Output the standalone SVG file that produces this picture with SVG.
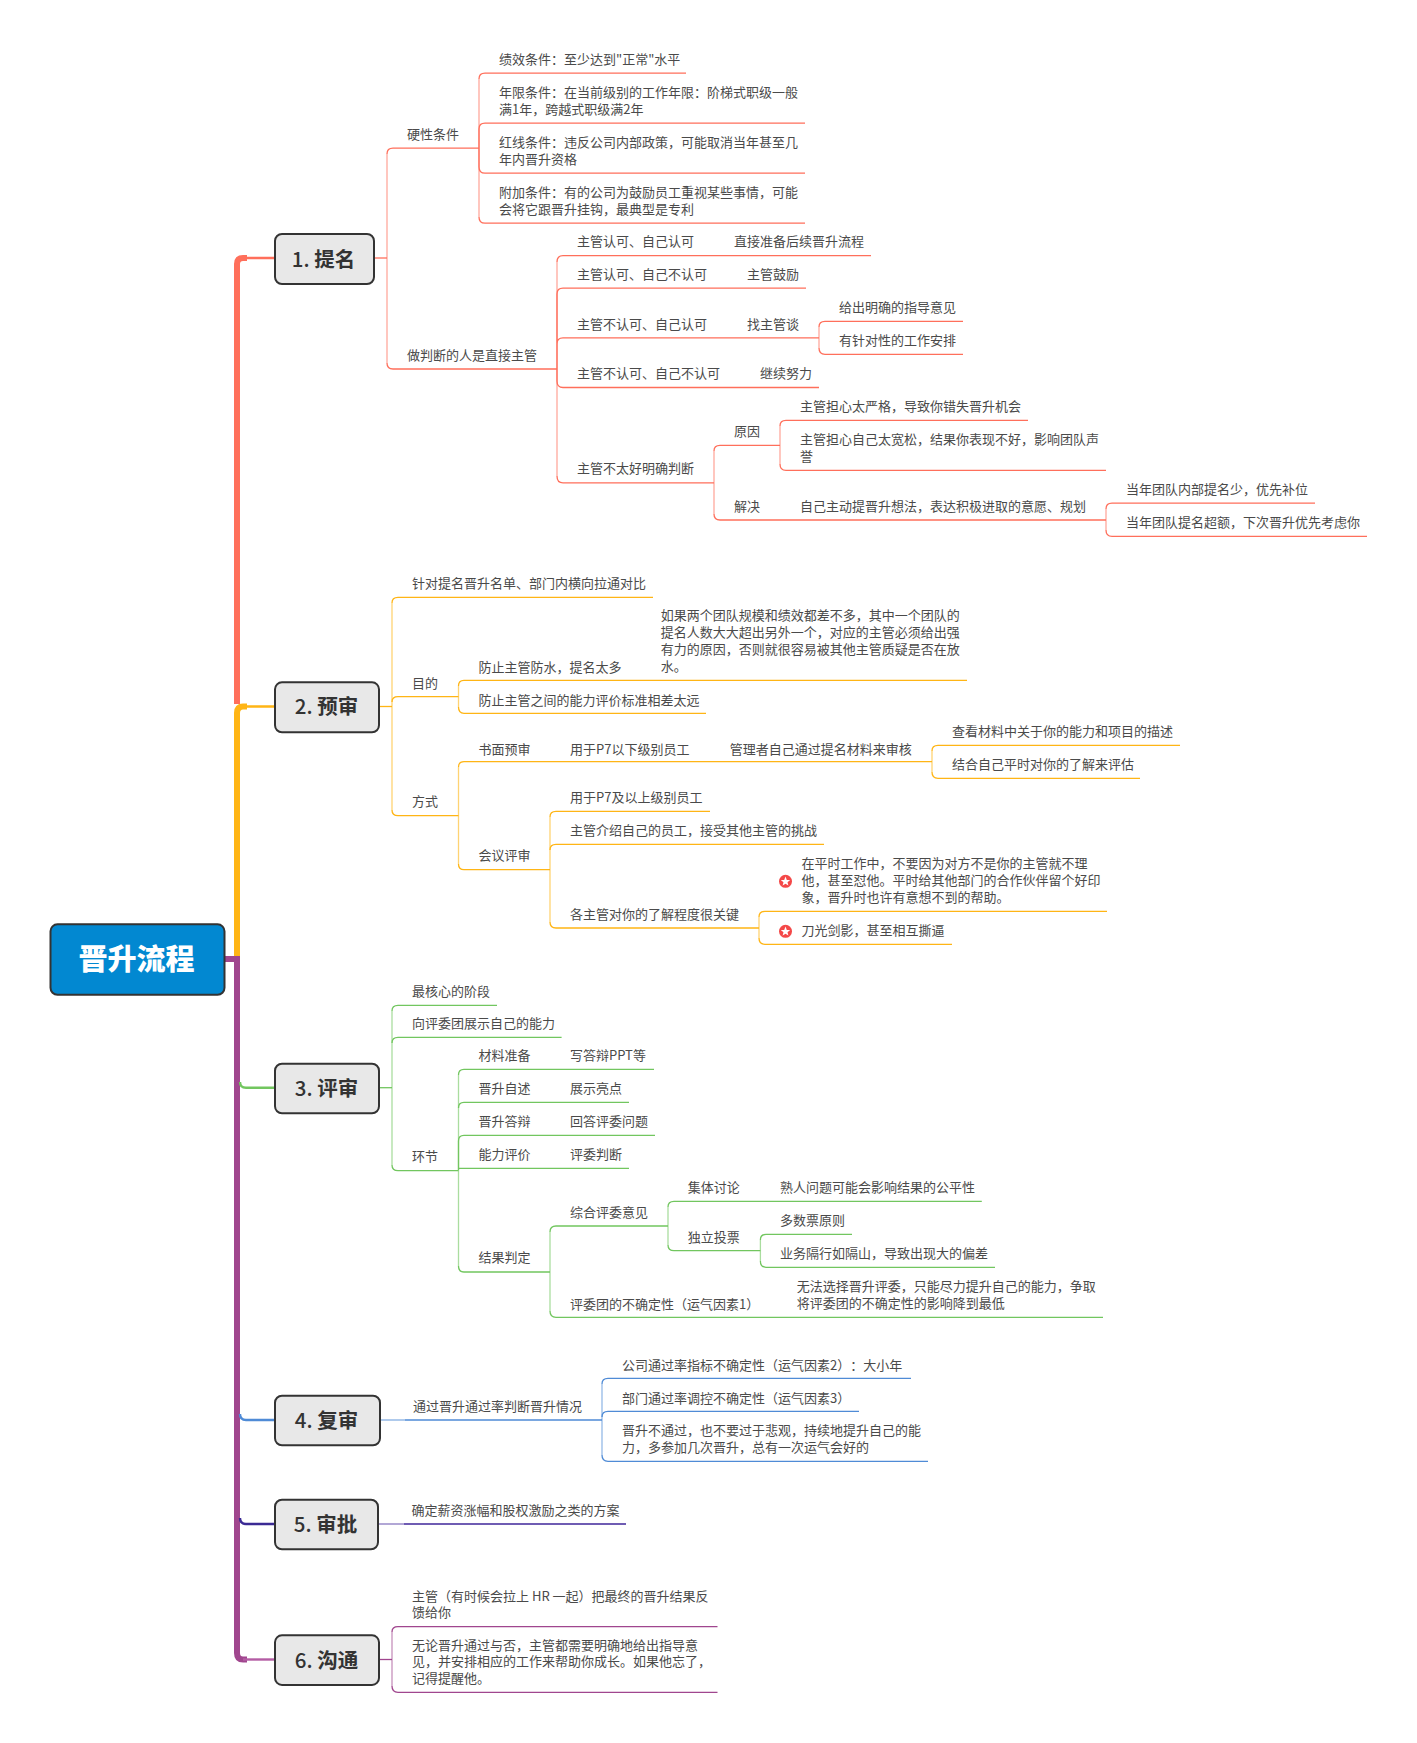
<svg xmlns="http://www.w3.org/2000/svg" width="1417" height="1743" viewBox="0 0 1417 1743">
<style>
text{font-family:"Noto Sans CJK SC","Noto Sans",sans-serif;fill:#4a4a4a;font-size:13px;text-spacing-trim:space-all}
.m{font-size:20.500px;font-weight:700;fill:#333;text-anchor:middle}
.d{font-weight:500}
.c{font-size:29px;font-weight:900;fill:#fff;text-anchor:middle}
.box{fill:#e8e8e8;stroke:#333;stroke-width:2}
.root{fill:#0288d1;stroke:#333;stroke-width:2}
#connectors path{fill:none;stroke-width:1.3}
.l{opacity:.6}
#connectors .tr{stroke-width:6}
#connectors .br{stroke-width:2.4}
.r{stroke:#ff6f5b}.o{stroke:#ffb515}.g{stroke:#72c65f}.b{stroke:#4f8bd6}.i{stroke:#6f5cb3}.p{stroke:#a0468e}
</style>
<g id="connectors">
<!-- trunk -->
<path class="tr p" d="M224 959H237V1653Q237 1659.500 243 1659.500H247"/>
<path class="tr o" d="M237 956V713Q237 706.500 243 706.500H247"/>
<path class="tr r" d="M237 704V264Q237 258 243 258H247"/>
<path class="br r" d="M240 258H275"/>
<path class="br o" d="M240 706.500H275"/>
<path class="br g" d="M240 1082Q240 1087.700 246 1087.700H275"/>
<path class="br b" d="M240 1414Q240 1420 246 1420H275"/>
<path class="br" style="stroke:#3b2a94" d="M240 1518Q240 1524 246 1524H275"/>
<path class="br" style="stroke:#b45ca4" d="M243 1659.500H275"/>
<!-- 1 -->
<path class="r" d="M374 258H387"/>
<path class="r l" d="M387 154V363M479 79V217M557 262V476M819 327V348M714 451V514M780 426V464M1106 509V530"/>
<path class="r" d="M387 154Q387 148.200 393 148.200H479M387 363Q387 369 393 369H557"/>
<path class="r" d="M479 79Q479 73.200 485 73.200H686M479 129Q479 123.200 485 123.200H805M479 167Q479 173.200 485 173.200H805M479 129V167M479 217Q479 223.200 485 223.200H805"/>
<path class="r" d="M557 262Q557 255.700 563 255.700H871M557 294Q557 288.200 563 288.200H806M557 344Q557 337.900 563 337.900H819M557 381Q557 387.500 563 387.500H819M557 476Q557 482.900 563 482.900H714M557 294V381"/>
<path class="r" d="M819 327Q819 321.400 825 321.400H963M819 348Q819 354.300 825 354.300H963"/>
<path class="r" d="M714 451Q714 445.400 720 445.400H780M714 514Q714 520 720 520H1106"/>
<path class="r" d="M780 426Q780 420.400 786 420.400H1028M780 464Q780 470.400 786 470.400H1106"/>
<path class="r" d="M1106 509Q1106 503.200 1112 503.200H1315M1106 530Q1106 536.400 1112 536.400H1367"/>
<!-- 2 -->
<path class="o" d="M379 706.500H392"/>
<path class="o l" d="M392 603V810M458.500 686V707M458.500 767V864M550 817V922M932 751V772M759 917V938"/>
<path class="o" d="M392 603Q392 597.300 398 597.300H653M392 702Q392 696.700 398 696.700H458.500M392 810Q392 815.700 398 815.700H458.500"/>
<path class="o" d="M458.500 686Q458.500 680.300 464 680.300H967M458.500 707Q458.500 713.300 464 713.300H706"/>
<path class="o" d="M458.500 767Q458.500 761.700 464 761.700H932M458.500 864Q458.500 869.700 464 869.700H550"/>
<path class="o" d="M932 751Q932 745.300 938 745.300H1180M932 772Q932 778.300 938 778.300H1140"/>
<path class="o" d="M550 817Q550 811.300 556 811.300H710M550 850Q550 844.300 556 844.300H824M550 922Q550 928 556 928H759"/>
<path class="o" d="M759 917Q759 911.300 765 911.300H1107M759 938Q759 944.300 765 944.300H952"/>
<!-- 3 -->
<path class="g" d="M379 1087.700H392"/>
<path class="g l" d="M392 1011V1165M458.500 1075V1266M550 1232V1311M668 1207V1245M760.400 1240V1261"/>
<path class="g" d="M392 1011Q392 1005.300 398 1005.300H497M392 1043Q392 1037.300 398 1037.300H561.600M392 1165Q392 1170.700 398 1170.700H458.500"/>
<path class="g" d="M458.500 1075Q458.500 1069.300 464 1069.300H654M458.500 1108Q458.500 1102.300 464 1102.300H629M458.500 1141Q458.500 1135.300 464 1135.300H655M458.500 1168.300H629M458.500 1141V1170M458.500 1266Q458.500 1272 464 1272H550"/>
<path class="g" d="M550 1232Q550 1226 556 1226H668M550 1311Q550 1317.300 556 1317.300H1103"/>
<path class="g" d="M668 1207Q668 1201.300 674 1201.300H981.800M668 1245Q668 1250.700 674 1250.700H760.400"/>
<path class="g" d="M760.400 1240Q760.400 1234.300 766 1234.300H852M760.400 1261Q760.400 1267.300 766 1267.300H995"/>
<!-- 4 -->
<path class="b l" d="M380 1420H405M602 1384V1455"/>
<path class="b" d="M405 1420H602M602 1384Q602 1378.300 608 1378.300H911M602 1417Q602 1411.300 608 1411.300H859M602 1455Q602 1461.300 608 1461.300H928"/>
<!-- 5 -->
<path class="i l" style="stroke-width:1.8" d="M378 1524H404"/>
<path class="i" style="stroke-width:1.8" d="M404 1524H626"/>
<!-- 6 -->
<path class="p" d="M379 1659.500H392"/>
<path class="p l" d="M392 1632V1686"/>
<path class="p" d="M392 1632Q392 1626.700 398 1626.700H717.500M392 1686Q392 1692.300 398 1692.300H717.500"/>
</g>

<g id="root"><rect class="root" x="50.500" y="924.300" width="174" height="70.500" rx="7"/><text class="c" x="136.500" y="970">晋升流程</text></g>
<g id="n1"><rect class="box" x="275" y="234" width="99" height="50" rx="7"/><text class="m" x="323.500" y="266.500"><tspan class="d">1. </tspan>提名</text></g>
<g id="n2"><rect class="box" x="275" y="682.300" width="104" height="50" rx="7"/><text class="m" x="326.500" y="714"><tspan class="d">2. </tspan>预审</text></g>
<g id="n3"><rect class="box" x="275" y="1063.700" width="104" height="49.600" rx="7"/><text class="m" x="326.500" y="1095.500"><tspan class="d">3. </tspan>评审</text></g>
<g id="n4"><rect class="box" x="275" y="1395.700" width="105" height="49.600" rx="7"/><text class="m" x="326.500" y="1427.500"><tspan class="d">4. </tspan>复审</text></g>
<g id="n5"><rect class="box" x="275" y="1499.700" width="103" height="49.600" rx="7"/><text class="m" x="325.500" y="1531.500"><tspan class="d">5. </tspan>审批</text></g>
<g id="n6"><rect class="box" x="275" y="1635.300" width="104" height="49.600" rx="7"/><text class="m" x="326.500" y="1667.500"><tspan class="d">6. </tspan>沟通</text></g>

<g id="t1-a"><text x="407" y="138.700">硬性条件</text></g>
<g id="t1-a1"><text x="499" y="63.700">绩效条件：至少达到"正常"水平</text></g>
<g id="t1-a2"><text x="499" y="96.900">年限条件：在当前级别的工作年限：阶梯式职级一般<tspan x="499" dy="17.200">满1年，跨越式职级满2年</tspan></text></g>
<g id="t1-a3"><text x="499" y="147.400">红线条件：违反公司内部政策，可能取消当年甚至几<tspan x="499" dy="17">年内晋升资格</tspan></text></g>
<g id="t1-a4"><text x="499" y="197.400">附加条件：有的公司为鼓励员工重视某些事情，可能<tspan x="499" dy="16.500">会将它跟晋升挂钩，最典型是专利</tspan></text></g>
<g id="t1-b"><text x="407" y="359.700">做判断的人是直接主管</text></g>
<g id="t1-b1"><text x="577" y="245.700">主管认可、自己认可</text><text x="734" y="245.700">直接准备后续晋升流程</text></g>
<g id="t1-b2"><text x="577" y="278.700">主管认可、自己不认可</text><text x="747" y="278.700">主管鼓励</text></g>
<g id="t1-b3"><text x="577" y="328.700">主管不认可、自己认可</text><text x="747" y="328.700">找主管谈</text></g>
<g id="t1-b3a"><text x="839" y="311.600">给出明确的指导意见</text></g>
<g id="t1-b3b"><text x="839" y="345.100">有针对性的工作安排</text></g>
<g id="t1-b4"><text x="577" y="378">主管不认可、自己不认可</text><text x="760" y="378">继续努力</text></g>
<g id="t1-b5"><text x="577" y="473">主管不太好明确判断</text></g>
<g id="t1-b5a"><text x="734" y="435.700">原因</text></g>
<g id="t1-b5a1"><text x="800" y="410.700">主管担心太严格，导致你错失晋升机会</text></g>
<g id="t1-b5a2"><text x="800" y="443.700">主管担心自己太宽松，结果你表现不好，影响团队声<tspan x="800" dy="17">誉</tspan></text></g>
<g id="t1-b5b"><text x="734" y="511.200">解决</text><text x="800" y="511.200">自己主动提晋升想法，表达积极进取的意愿、规划</text></g>
<g id="t1-b5b1"><text x="1126" y="494.100">当年团队内部提名少，优先补位</text></g>
<g id="t1-b5b2"><text x="1126" y="526.900">当年团队提名超额，下次晋升优先考虑你</text></g>

<g id="t2-a"><text x="412" y="588">针对提名晋升名单、部门内横向拉通对比</text></g>
<g id="t2-b"><text x="412" y="688.200">目的</text></g>
<g id="t2-b1"><text x="478.600" y="672.200">防止主管防水，提名太多</text><text x="660.700" y="619.700">如果两个团队规模和绩效都差不多，其中一个团队的<tspan x="660.700" dy="17">提名人数大大超出另外一个，对应的主管必须给出强</tspan><tspan x="660.700" dy="17">有力的原因，否则就很容易被其他主管质疑是否在放</tspan><tspan x="660.700" dy="17">水。</tspan></text></g>
<g id="t2-b2"><text x="478.600" y="704.500">防止主管之间的能力评价标准相差太远</text></g>
<g id="t2-c"><text x="412" y="806">方式</text></g>
<g id="t2-c1"><text x="478.600" y="753.500">书面预审</text><text x="570" y="753.500">用于P7以下级别员工</text><text x="729.700" y="753.500">管理者自己通过提名材料来审核</text></g>
<g id="t2-c1a"><text x="952" y="735.700">查看材料中关于你的能力和项目的描述</text></g>
<g id="t2-c1b"><text x="952" y="769">结合自己平时对你的了解来评估</text></g>
<g id="t2-c2"><text x="478.600" y="860">会议评审</text></g>
<g id="t2-c2a"><text x="570" y="802.200">用于P7及以上级别员工</text></g>
<g id="t2-c2b"><text x="570" y="835.300">主管介绍自己的员工，接受其他主管的挑战</text></g>
<g id="t2-c2c"><text x="570" y="919.300">各主管对你的了解程度很关键</text></g>
<g id="t2-c2c1"><circle cx="785.500" cy="881.300" r="6.500" fill="#f44848"/><polygon fill="#fff" points="785.500,876.600 786.800,879.900 790.200,880.100 787.500,882.300 788.400,885.600 785.500,883.700 782.600,885.600 783.500,882.300 780.800,880.100 784.200,879.900"/><text x="801.500" y="867.500">在平时工作中，不要因为对方不是你的主管就不理<tspan x="801.500" dy="17.200">他，甚至怼他。平时给其他部门的合作伙伴留个好印</tspan><tspan x="801.500" dy="17">象，晋升时也许有意想不到的帮助。</tspan></text></g>
<g id="t2-c2c2"><circle cx="785.500" cy="931.300" r="6.500" fill="#f44848"/><polygon fill="#fff" points="785.500,926.600 786.800,929.900 790.200,930.100 787.500,932.300 788.400,935.600 785.500,933.700 782.600,935.600 783.500,932.300 780.800,930.100 784.200,929.900"/><text x="801.500" y="935.300">刀光剑影，甚至相互撕逼</text></g>

<g id="t3-a"><text x="412" y="995.700">最核心的阶段</text></g>
<g id="t3-b"><text x="412" y="1028">向评委团展示自己的能力</text></g>
<g id="t3-c"><text x="412" y="1160.700">环节</text></g>
<g id="t3-c1"><text x="478.600" y="1059.700">材料准备</text><text x="570" y="1059.700">写答辩PPT等</text></g>
<g id="t3-c2"><text x="478.600" y="1092.700">晋升自述</text><text x="570" y="1092.700">展示亮点</text></g>
<g id="t3-c3"><text x="478.600" y="1125.700">晋升答辩</text><text x="570" y="1125.700">回答评委问题</text></g>
<g id="t3-c4"><text x="478.600" y="1159">能力评价</text><text x="570" y="1159">评委判断</text></g>
<g id="t3-c5"><text x="478.600" y="1261.700">结果判定</text></g>
<g id="t3-c5a"><text x="570" y="1217">综合评委意见</text></g>
<g id="t3-c5a1"><text x="687.700" y="1192">集体讨论</text><text x="780" y="1192">熟人问题可能会影响结果的公平性</text></g>
<g id="t3-c5a2"><text x="687.700" y="1241.700">独立投票</text></g>
<g id="t3-c5a2a"><text x="780" y="1224.700">多数票原则</text></g>
<g id="t3-c5a2b"><text x="780" y="1258.300">业务隔行如隔山，导致出现大的偏差</text></g>
<g id="t3-c5b"><text x="570" y="1308.500">评委团的不确定性（运气因素1）</text><text x="796.800" y="1290.700">无法选择晋升评委，只能尽力提升自己的能力，争取<tspan x="796.800" dy="17">将评委团的不确定性的影响降到最低</tspan></text></g>

<g id="t4-a"><text x="412.900" y="1410.700">通过晋升通过率判断晋升情况</text></g>
<g id="t4-a1"><text x="622" y="1369.800">公司通过率指标不确定性（运气因素2）：大小年</text></g>
<g id="t4-a2"><text x="622" y="1402.800">部门通过率调控不确定性（运气因素3）</text></g>
<g id="t4-a3"><text x="622" y="1434.700">晋升不通过，也不要过于悲观，持续地提升自己的能<tspan x="622" dy="17.300">力，多参加几次晋升，总有一次运气会好的</tspan></text></g>
<g id="t5-a"><text x="411.400" y="1515">确定薪资涨幅和股权激励之类的方案</text></g>
<g id="t6-a"><text x="412" y="1600.800">主管（有时候会拉上 HR 一起）把最终的晋升结果反<tspan x="412" dy="16.500">馈给你</tspan></text></g>
<g id="t6-b"><text x="412" y="1649.500">无论晋升通过与否，主管都需要明确地给出指导意<tspan x="412" dy="16.800">见，并安排相应的工作来帮助你成长。如果他忘了，</tspan><tspan x="412" dy="16.800">记得提醒他。</tspan></text></g>
</svg>
